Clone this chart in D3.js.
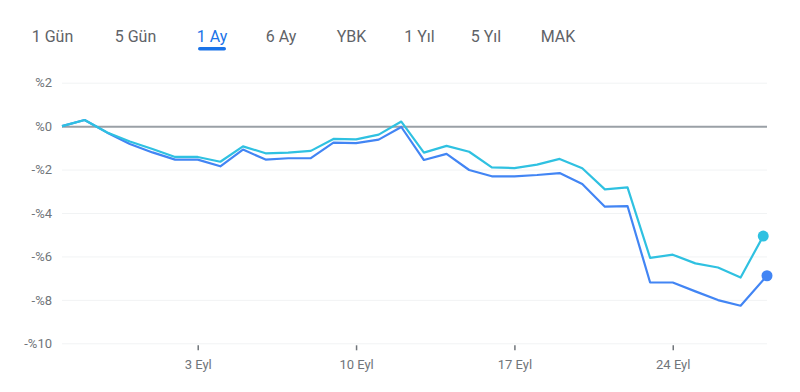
<!DOCTYPE html>
<html>
<head>
<meta charset="utf-8">
<script src="https://cdn.jsdelivr.net/npm/d3@7"></script>
<style>
    body { margin: 0; background: #fff; font-family: Roboto, "Noto Sans", sans-serif; }
    svg { display: block; }
    .tab { font-size: 16px; fill: #5f6368; }
    .tab.active { fill: #1a73e8; }
    .axis text { font-size: 13px; fill: #70757a; font-family: Roboto, sans-serif; }
    .axis .domain { display: none; }
</style>
</head>
<body>
<div id="chart"></div>
<script>
    // tabs
    const tabs = ["1 Gün", "5 Gün", "1 Ay", "6 Ay", "YBK", "1 Yıl", "5 Yıl", "MAK"];
    const activeTab = "1 Ay";

    // daily values in %, from 28 Aug
    const startDate = new Date(2023, 7, 28);
    const cyanValues = [0, 0.28, -0.29, -0.71, -1.05, -1.42, -1.42, -1.64, -0.93, -1.25, -1.22, -1.14,
        -0.59, -0.61, -0.39, 0.21, -1.22, -0.91, -1.18, -1.9, -1.93, -1.77, -1.51, -1.94, -2.91, -2.82,
        -6.07, -5.92, -6.32, -6.51, -6.97, -5.06];
    const blueValues = [0, 0.28, -0.3, -0.82, -1.21, -1.54, -1.54, -1.85, -1.08, -1.54, -1.48, -1.47,
        -0.76, -0.78, -0.62, -0.04, -1.56, -1.28, -2.02, -2.31, -2.31, -2.25, -2.16, -2.66, -3.71, -3.68,
        -7.2, -7.2, -7.61, -8.01, -8.27, -6.89];
    // last point is intraday, hours after midnight
    const cyanLastHours = 0;
    const blueLastHours = 4;

    const yTicks = [2, 0, -2, -4, -6, -8, -10];
    const xTickDays = [3, 10, 17, 24];

    const width = 800, height = 392;
    const margin = {top: 82.7, right: 33, bottom: 48.7, left: 62};

    const tr = d3.timeFormatLocale({
        dateTime: "%a %e %b %X %Y", date: "%d.%m.%Y", time: "%H:%M:%S",
        periods: ["", ""],
        days: ["Pazar", "Pazartesi", "Salı", "Çarşamba", "Perşembe", "Cuma", "Cumartesi"],
        shortDays: ["Paz", "Pzt", "Sal", "Çar", "Per", "Cum", "Cmt"],
        months: ["Ocak", "Şubat", "Mart", "Nisan", "Mayıs", "Haziran", "Temmuz", "Ağustos", "Eylül", "Ekim", "Kasım", "Aralık"],
        shortMonths: ["Oca", "Şub", "Mar", "Nis", "May", "Haz", "Tem", "Ağu", "Eyl", "Eki", "Kas", "Ara"]
    });

    const toPoints = (values, lastHours) => values.map((v, i) => {
        let d = d3.timeDay.offset(startDate, i);
        if (i === values.length - 1) d = d3.timeHour.offset(d, lastHours);
        return {date: d, value: v};
    });
    const cyanData = toPoints(cyanValues, cyanLastHours);
    const blueData = toPoints(blueValues, blueLastHours);

    const svg = d3.select("#chart").append("svg")
        .attr("width", width)
        .attr("height", height);

    // tab bar
    const tabCenters = [52.5, 135.5, 212, 281, 351.5, 419.5, 486, 558];
    svg.selectAll(".tab")
        .data(tabs)
        .join("text")
        .attr("class", d => "tab" + (d === activeTab ? " active" : ""))
        .attr("x", (d, i) => tabCenters[i])
        .attr("y", 42)
        .attr("text-anchor", "middle")
        .text(d => d);

    const ai = tabs.indexOf(activeTab);
    svg.append("rect")
        .attr("x", tabCenters[ai] - 14)
        .attr("y", 47)
        .attr("width", 28)
        .attr("height", 3.5)
        .attr("rx", 1.75)
        .attr("fill", "#1a73e8");

    const x = d3.scaleTime()
        .domain([startDate, blueData[blueData.length - 1].date])
        .range([margin.left, width - margin.right]);

    const y = d3.scaleLinear()
        .domain([-10, 2])
        .range([height - margin.bottom, margin.top]);

    // y axis + grid
    const yAxis = svg.append("g")
        .attr("class", "axis")
        .attr("transform", `translate(${margin.left} 0)`)
        .call(d3.axisLeft(y)
            .tickValues(yTicks)
            .tickSize(0)
            .tickPadding(10)
            .tickFormat(v => (v < 0 ? "-" : "") + "%" + Math.abs(v)));

    yAxis.selectAll(".tick line")
        .attr("x2", width - margin.right - margin.left)
        .attr("stroke", d => d === 0 ? "#9aa0a6" : "#f1f3f4")
        .attr("stroke-width", d => d === 0 ? 2 : 1);

    // x axis
    const xAxis = svg.append("g")
        .attr("class", "axis")
        .attr("transform", `translate(0 ${height - margin.bottom + 2})`)
        .call(d3.axisBottom(x)
            .tickValues(xTickDays.map(d => new Date(2023, 8, d)))
            .tickSize(5)
            .tickPadding(9)
            .tickFormat(tr.format("%-d %b")));

    xAxis.selectAll(".tick line")
        .attr("stroke", "#70757a")
        .attr("stroke-width", 1.5);

    const line = d3.line()
        .x(d => x(d.date))
        .y(d => y(d.value));

    const series = [
        {data: blueData, color: "#4285f4"},
        {data: cyanData, color: "#2fc1e1"}
    ];

    svg.selectAll(".series")
        .data(series)
        .join("path")
        .attr("class", "series")
        .attr("d", d => line(d.data))
        .attr("fill", "none")
        .attr("stroke", d => d.color)
        .attr("stroke-width", 2.2)
        .attr("stroke-linejoin", "round");

    svg.selectAll(".end-dot")
        .data(series)
        .join("circle")
        .attr("class", "end-dot")
        .attr("cx", d => x(d.data[d.data.length - 1].date))
        .attr("cy", d => y(d.data[d.data.length - 1].value))
        .attr("r", 5.5)
        .attr("fill", d => d.color);
</script>
</body>
</html>
